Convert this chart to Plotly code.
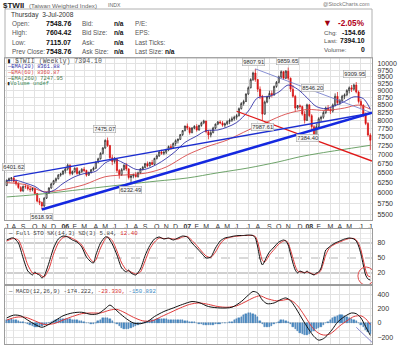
import numpy as np
import pandas as pd
import plotly.graph_objects as go

# ---------------- data ----------------
# weekly bars (week ending Friday)
week_dates = pd.date_range("2005-07-15", periods=156, freq="7D")

opens = [6180, 6310, 6350, 6370, 6280, 6220, 6130, 6050, 6160, 6150,
         6100, 6080, 6110, 5990, 5810, 5780, 5700, 5880, 6000, 6120,
         6220, 6300, 6350, 6440, 6470, 6548, 6600, 6700, 6480, 6530,
         6620, 6480, 6530, 6590, 6560, 6440, 6510, 6580, 6620, 6780,
         6870, 7020, 7170, 7390, 7240, 6900, 6800, 6860, 6560, 6450,
         6580, 6700, 6600, 6380, 6420, 6450, 6400, 6500, 6600, 6640,
         6740, 6680, 6770, 6720, 6880, 6950, 7060, 7020, 7050, 7120,
         7210, 7180, 7300, 7380, 7420, 7560, 7680, 7823, 7760, 7620,
         7760, 7810, 7700, 7840, 7920, 7980, 7650, 7550, 7620, 7760,
         7880, 7950, 7920, 7850, 7890, 7960, 8000, 8050, 8100, 8150,
         8380, 8550, 8620, 8880, 9100, 9400, 9650, 9400, 9050, 8800,
         8200, 8600, 8780, 8900, 8850, 9150, 9300, 9500, 9700, 9450,
         9720, 9450, 9050, 8800, 8400, 8480, 8450, 8200, 8000, 8506,
         8150, 7800, 7550, 7800, 8050, 8100, 8250, 8400, 8350, 8300,
         8500, 8800, 8580, 8650, 8800, 8850, 9000, 9100, 9050, 9200,
         8950, 8620, 8500, 8200, 7900, 7548.76]
highs = [6330, 6380, 6390, 6401.62, 6330, 6260, 6170, 6180, 6220, 6200,
         6150, 6140, 6130, 6000, 5880, 5800, 5900, 6020, 6140, 6250,
         6320, 6380, 6470, 6500, 6560, 6620, 6740, 6720, 6560, 6640,
         6650, 6560, 6620, 6650, 6580, 6530, 6600, 6660, 6800, 6900,
         7050, 7200, 7420, 7475.07, 7260, 6980, 6920, 6880, 6600, 6620,
         6720, 6760, 6620, 6450, 6480, 6520, 6530, 6620, 6680, 6760,
         6800, 6790, 6840, 6900, 6990, 7080, 7120, 7100, 7150, 7240,
         7280, 7330, 7420, 7450, 7580, 7700, 7830, 7900, 7800, 7790,
         7850, 7880, 7860, 7960, 8020, 7990, 7700, 7700, 7800, 7900,
         7980, 8000, 7980, 7930, 8000, 8060, 8120, 8150, 8200, 8420,
         8600, 8680, 8900, 9150, 9450, 9700, 9807.91, 9420, 9150, 8850,
         8650, 8820, 9000, 9000, 9180, 9350, 9550, 9750, 9730, 9760,
         9859.65, 9480, 9200, 8850, 8500, 8520, 8480, 8300, 8546.20, 8520,
         8200, 7850, 7900, 8100, 8150, 8300, 8450, 8500, 8450, 8550,
         8900, 8950, 8700, 8850, 8900, 9050, 9150, 9200, 9250, 9309.95,
         9000, 8700, 8520, 8250, 7950, 7604.42]
lows = [6170, 6260, 6280, 6250, 6180, 6100, 6020, 6030, 6100, 6060,
        6020, 6040, 5960, 5780, 5720, 5618.93, 5680, 5860, 5980, 6100,
        6190, 6250, 6330, 6400, 6440, 6480, 6560, 6430, 6440, 6500,
        6450, 6440, 6500, 6520, 6400, 6420, 6480, 6550, 6600, 6750,
        6850, 6990, 7150, 7200, 6850, 6700, 6740, 6500, 6350, 6420,
        6560, 6550, 6330, 6232.49, 6360, 6380, 6380, 6470, 6560, 6620,
        6640, 6660, 6700, 6710, 6850, 6920, 6980, 6970, 7000, 7080,
        7120, 7150, 7230, 7300, 7400, 7520, 7660, 7700, 7560, 7600,
        7720, 7650, 7680, 7800, 7880, 7600, 7420, 7480, 7600, 7720,
        7850, 7880, 7800, 7780, 7860, 7880, 7950, 7990, 8020, 8120,
        8350, 8480, 8600, 8850, 9080, 9350, 9320, 8950, 8700, 7987.61,
        8180, 8560, 8700, 8760, 8820, 9100, 9260, 9450, 9400, 9420,
        9380, 8950, 8750, 8300, 8350, 8380, 8150, 7900, 7980, 8100,
        7700, 7450, 7384.40, 7750, 7950, 8050, 8200, 8300, 8200, 8250,
        8450, 8500, 8500, 8600, 8700, 8800, 8900, 8950, 9000, 8900,
        8550, 8400, 8100, 7850, 7500, 7115.07]
closes = [6310, 6350, 6370, 6280, 6220, 6130, 6050, 6160, 6150, 6100,
          6080, 6110, 5990, 5810, 5780, 5700, 5880, 6000, 6120, 6220,
          6300, 6350, 6440, 6470, 6548, 6600, 6700, 6480, 6530, 6620,
          6480, 6530, 6590, 6560, 6440, 6510, 6580, 6620, 6780, 6870,
          7020, 7170, 7390, 7240, 6900, 6800, 6860, 6560, 6450, 6580,
          6700, 6600, 6380, 6420, 6450, 6400, 6500, 6600, 6640, 6740,
          6680, 6770, 6720, 6880, 6950, 7060, 7020, 7050, 7120, 7210,
          7180, 7300, 7380, 7420, 7560, 7680, 7823, 7760, 7620, 7760,
          7810, 7700, 7840, 7920, 7980, 7650, 7550, 7620, 7760, 7880,
          7950, 7920, 7850, 7890, 7960, 8000, 8050, 8100, 8150, 8380,
          8550, 8620, 8880, 9100, 9400, 9650, 9400, 9050, 8800, 8200,
          8600, 8780, 8900, 8850, 9150, 9300, 9500, 9700, 9450, 9720,
          9450, 9050, 8800, 8400, 8480, 8450, 8200, 8000, 8506, 8150,
          7800, 7550, 7800, 8050, 8100, 8250, 8400, 8350, 8300, 8500,
          8800, 8580, 8650, 8800, 8850, 9000, 9100, 9050, 9200, 8950,
          8620, 8500, 8200, 7900, 7548.76, 7394.10]

ema20_dates = ["2005-07-15", "2005-08-12", "2005-09-09", "2005-10-07", "2005-11-04",
               "2005-12-02", "2005-12-30", "2006-02-03", "2006-03-03", "2006-04-07",
               "2006-05-05", "2006-06-02", "2006-07-07", "2006-08-04", "2006-09-01",
               "2006-10-06", "2006-11-03", "2006-12-01", "2006-12-29", "2007-02-02",
               "2007-03-02", "2007-04-06", "2007-05-04", "2007-06-01", "2007-07-06",
               "2007-08-03", "2007-09-07", "2007-10-05", "2007-11-02", "2007-11-30",
               "2007-12-28", "2008-01-25", "2008-02-22", "2008-03-21", "2008-04-18",
               "2008-05-16", "2008-06-13", "2008-07-04"]
ema20_vals = [6300, 6310, 6240, 6160, 6020, 6060, 6230, 6400, 6480, 6540,
              6760, 6850, 6720, 6590, 6590, 6720, 6880, 7080, 7330, 7520,
              7680, 7700, 7790, 7930, 8300, 8750, 8800, 8950, 9200, 9050,
              8750, 8450, 8380, 8480, 8620, 8780, 8720, 8361.88]

ema60_dates = ["2005-07-15", "2005-09-09", "2005-11-04", "2005-12-30", "2006-03-03",
               "2006-05-05", "2006-07-14", "2006-09-08", "2006-11-03", "2007-01-05",
               "2007-03-02", "2007-05-04", "2007-07-06", "2007-08-31", "2007-10-26",
               "2007-12-28", "2008-02-22", "2008-04-18", "2008-05-30", "2008-07-04"]
ema60_vals = [6250, 6200, 6030, 6080, 6200, 6400, 6450, 6500, 6650, 6980,
              7200, 7400, 7700, 7950, 8200, 8350, 8320, 8400, 8500, 8360.87]

ema260_dates = ["2005-07-15", "2005-10-07", "2006-01-06", "2006-04-07", "2006-07-07",
                "2006-10-06", "2007-01-05", "2007-04-06", "2007-07-06", "2007-10-05",
                "2007-12-07", "2008-02-01", "2008-04-04", "2008-07-04"]
ema260_vals = [5907, 5960, 6040, 6126, 6210, 6290, 6368, 6500, 6626, 6790,
               6926, 7020, 7114, 7247.95]

# trend line anchors
channel_top_dates = ["2005-08-05", "2008-07-09"]
channel_top_prices = [6401.62, 8237]
fall_line_dates = ["2007-07-27", "2008-07-09"]
fall_line_prices = [9807.91, 8237]
support_idx = [15, 53]          # lows the rising support line runs through
break_idx = [109, 132]          # lows the red line runs through
support_end = "2008-07-09"
break_span = ["2007-06-01", "2008-07-09"]

# Full stochastics (week index, value)
sto_idx = [0, 2, 3, 5, 7, 9, 11, 12, 13, 14,
           15, 16, 18, 20, 22, 24, 26, 28, 30, 32,
           34, 36, 37, 38, 40, 42, 43, 45, 47, 49,
           51, 52, 53, 55, 57, 59, 61, 63, 65, 67,
           69, 71, 73, 75, 77, 79, 81, 83, 85, 87,
           89, 91, 93, 95, 97, 99, 101, 103, 105, 106,
           107, 108, 109, 110, 111, 112, 114, 116, 118, 119,
           120, 121, 122, 123, 124, 125, 126, 127, 128, 129,
           130, 131, 132, 133, 134, 135, 136, 137, 138, 140,
           142, 144, 146, 148, 149, 150, 151, 152, 153, 154,
           155]
sto_k = [86, 90, 90, 80, 50, 24, 16, 22, 18, 16,
         10, 14, 40, 70, 88, 94, 92, 86, 82, 72,
         52, 42, 40, 56, 80, 92, 92, 78, 56, 30,
         22, 26, 20, 16, 28, 55, 75, 88, 92, 88,
         90, 86, 90, 94, 92, 80, 70, 60, 50, 52,
         70, 84, 90, 92, 94, 95, 95, 96, 95, 90,
         72, 48, 36, 44, 54, 62, 72, 82, 86, 84,
         76, 58, 40, 26, 20, 24, 22, 20, 24, 20,
         18, 16, 20, 22, 30, 48, 66, 70, 74, 80,
         84, 88, 90, 88, 84, 74, 58, 36, 16, 8,
         5.84]
sto_d = [84, 88, 89, 86, 64, 36, 20, 19, 19, 18,
         14, 12, 28, 58, 80, 91, 93, 89, 84, 76,
         60, 46, 42, 46, 70, 88, 92, 85, 64, 40,
         26, 24, 22, 18, 22, 44, 68, 82, 90, 89,
         89, 88, 88, 92, 93, 85, 75, 64, 54, 51,
         62, 78, 88, 91, 93, 94, 95, 95, 95, 93,
         82, 62, 45, 42, 48, 56, 67, 78, 84, 85,
         80, 66, 50, 34, 24, 22, 22, 21, 22, 21,
         19, 17, 18, 20, 26, 40, 56, 66, 72, 78,
         82, 86, 89, 89, 86, 79, 66, 46, 26, 14,
         12.40]

# MACD(12,26,9)
macd_idx = [0, 3, 6, 9, 12, 15, 18, 21, 24, 28,
            32, 36, 39, 42, 44, 46, 48, 51, 54, 57,
            60, 63, 67, 71, 75, 79, 82, 86, 91, 96,
            100, 103, 105, 107, 109, 111, 114, 117, 119, 121,
            123, 125, 127, 129, 131, 133, 135, 137, 139, 141,
            144, 147, 149, 151, 153, 155]
macd_vals = [70, 110, 100, 40, -20, -60, -20, 40, 100, 140,
             150, 120, 130, 200, 250, 200, 140, 60, 0, -10,
             20, 90, 160, 210, 260, 300, 285, 230, 210, 220,
             300, 390, 440, 420, 320, 270, 280, 330, 350, 310,
             220, 110, 0, -100, -190, -240, -220, -160, -80, 10,
             90, 140, 130, 70, -50, -174.222]
signal_idx = [0, 4, 8, 12, 16, 20, 24, 28, 32, 36,
              40, 44, 47, 50, 54, 58, 62, 66, 70, 74,
              78, 82, 86, 90, 94, 98, 102, 105, 108, 111,
              115, 118, 120, 122, 124, 126, 128, 130, 132, 134,
              136, 138, 140, 142, 145, 148, 151, 153, 155]
signal_vals = [40, 80, 80, 30, -20, -10, 40, 90, 130, 140,
               140, 180, 190, 150, 80, 30, 30, 90, 150, 210,
               260, 280, 260, 230, 220, 240, 300, 350, 380, 340,
               310, 320, 330, 300, 240, 150, 50, -50, -120, -160,
               -170, -150, -100, -40, 30, 90, 100, 60, -23.330]
macd_hist = [40, 45, 50, 45, 40, 30, 20, 10, 0,
             -15, -30, -45, -55, -60, -55, -45, -30,
             -15, 0, 15, 30, 40, 50,
             55, 60, 60, 55, 50, 45, 40, 35, 30, 25, 15, 5, -5, -15, -10,
             5, 25, 45, 65, 75, 70, 55, 30,
             5, -20, -45, -65, -80, -90, -85, -75, -60, -45,
             -30, -15, 0, 10, 20, 30, 40,
             45, 50, 55, 55, 50, 50, 45, 45, 45, 40, 40, 35, 35, 30, 25, 20, 15, 10,
             0, -10, -20, -25, -30, -30, -30, -25, -20, -15, -10, -5, 0,
             5, 10, 20, 35, 50, 70, 90, 110, 125, 135, 140,
             130, 110, 80, 30, -20,
             -50, -60, -55, -40, -20, 0,
             20, 35, 40, 30, 10,
             -20, -50, -80, -110, -140, -160, -170, -165, -150, -130, -110, -90, -70, -50, -25, -5,
             15, 40, 65, 85, 100, 110, 110, 100, 90, 75, 60, 45,
             25, 0, -30, -60, -95, -125, -150.892]
macd_trend_dates = ["2008-05-23", "2008-07-09"]
macd_trend_vals = [-60, -270]

price_ticks = [5500, 5750, 6000, 6250, 6500, 6750, 7000, 7250, 7500, 7750,
               8000, 8250, 8500, 8750, 9000, 9250, 9500, 9750, 10000]

# labelled turning points: (week index, 'high'/'low', y shift px, x shift px)
turn_labels = [(3, "high", 10, 0), (15, "low", -7, 0), (43, "high", 8, -3),
               (53, "low", -7, -1), (106, "high", 7, -2), (120, "high", 7, -1),
               (109, "low", -6, 0), (128, "high", 16, 6), (132, "low", 3, -9),
               (149, "high", 8, -2)]

# ---------------- drawing ----------------
W, H = 400, 346
FONT = "Liberation Sans, Arial, sans-serif"
MONO = "Liberation Mono, DejaVu Sans Mono, monospace"


def px(x):
    return x / W


def py(y):
    return 1 - y / H


x_range = ["2005-07-10", "2008-07-09"]
dates = pd.Series(week_dates)

fig = go.Figure()

# price candles
fig.add_trace(go.Candlestick(
    x=week_dates, open=opens, high=highs, low=lows, close=closes,
    increasing=dict(line=dict(color="#1a1a1a", width=0.7), fillcolor="#ffffff"),
    decreasing=dict(line=dict(color="#d81010", width=0.7), fillcolor="#d81010"),
    whiskerwidth=0, xaxis="x", yaxis="y", showlegend=False, hoverinfo="skip"))

# moving averages
for d, v, c in [(ema260_dates, ema260_vals, "#5f9a5a"),
                (ema60_dates, ema60_vals, "#d84848"),
                (ema20_dates, ema20_vals, "#3030a8")]:
    fig.add_trace(go.Scatter(x=d, y=v, mode="lines", xaxis="x", yaxis="y",
                             line=dict(color=c, width=0.9, shape="spline", smoothing=0.9),
                             showlegend=False, hoverinfo="skip"))


def extend_line(d0, p0, d1, p1, end_a, end_b):
    """straight line in (time, log price) through two points, drawn between end_a and end_b"""
    t0, t1 = pd.Timestamp(d0), pd.Timestamp(d1)
    slope = (np.log10(p1) - np.log10(p0)) / (t1 - t0).days
    out_d, out_p = [], []
    for e in (end_a, end_b):
        te = pd.Timestamp(e)
        out_d.append(te)
        out_p.append(10 ** (np.log10(p0) + slope * (te - t0).days))
    return out_d, out_p


# rising support through the two lows
sd, sp = extend_line(week_dates[support_idx[0]], lows[support_idx[0]],
                     week_dates[support_idx[1]], lows[support_idx[1]],
                     week_dates[support_idx[0]], support_end)
# red line through the 2007/2008 lows
bd, bp = extend_line(week_dates[break_idx[0]], lows[break_idx[0]],
                     week_dates[break_idx[1]], lows[break_idx[1]],
                     break_span[0], break_span[1])

line_specs = [(fall_line_dates, fall_line_prices, "#6a74c8", 0.8),
              (bd, bp, "#e01818", 1.3),
              (channel_top_dates, channel_top_prices, "#1c2ed0", 1.4),
              (sd, sp, "#1428e0", 2.6)]
for d, v, c, w in line_specs:
    fig.add_trace(go.Scatter(x=d, y=v, mode="lines", xaxis="x", yaxis="y",
                             line=dict(color=c, width=w), showlegend=False,
                             hoverinfo="skip", cliponaxis=True))

# stochastics
fig.add_trace(go.Scatter(x=dates[sto_idx], y=sto_d, mode="lines", xaxis="x2", yaxis="y2",
                         line=dict(color="#e03a3a", width=1, shape="spline", smoothing=0.6),
                         showlegend=False, hoverinfo="skip"))
fig.add_trace(go.Scatter(x=dates[sto_idx], y=sto_k, mode="lines", xaxis="x2", yaxis="y2",
                         line=dict(color="#111111", width=1, shape="spline", smoothing=0.6),
                         showlegend=False, hoverinfo="skip"))

# MACD
fig.add_trace(go.Bar(x=week_dates, y=macd_hist, xaxis="x3", yaxis="y3",
                     marker=dict(color="#4a8cc4", line=dict(color="#2f6fa8", width=0.4)),
                     width=4.2 * 86400000, showlegend=False, hoverinfo="skip"))
fig.add_trace(go.Scatter(x=dates[signal_idx], y=signal_vals, mode="lines", xaxis="x3", yaxis="y3",
                         line=dict(color="#e03a3a", width=1, shape="spline", smoothing=0.8),
                         showlegend=False, hoverinfo="skip"))
fig.add_trace(go.Scatter(x=dates[macd_idx], y=macd_vals, mode="lines", xaxis="x3", yaxis="y3",
                         line=dict(color="#111111", width=1, shape="spline", smoothing=0.8),
                         showlegend=False, hoverinfo="skip"))
fig.add_trace(go.Scatter(x=macd_trend_dates, y=macd_trend_vals, mode="lines", xaxis="x3", yaxis="y3",
                         line=dict(color="#8a8ad0", width=1), showlegend=False, hoverinfo="skip"))

# month ticks at the first weekly bar of each month
tick_dates, tick_text = [], []
prev = None
for d in week_dates:
    key = (d.year, d.month)
    if key != prev:
        tick_dates.append(d)
        tick_text.append("<b>%02d</b>" % (d.year % 100) if d.month == 1 else d.strftime("%b")[0])
        prev = key

grid = "#e2e2e2"
frame = "#9c9c9c"
xcommon = dict(type="date", range=x_range, tickmode="array", tickvals=tick_dates,
               showgrid=True, gridcolor=grid, gridwidth=0.6, showline=True, linecolor=frame,
               linewidth=1, mirror=True, ticks="", zeroline=False,
               domain=[px(5), px(372)])
ycommon = dict(side="right", showline=True, linecolor=frame, linewidth=1, mirror=True,
               ticks="", zeroline=False, tickfont=dict(size=7, color="#333", family=FONT),
               ticklabelstandoff=3)

fig.update_layout(
    width=W, height=H, margin=dict(l=0, r=0, t=0, b=0),
    paper_bgcolor="white", plot_bgcolor="white",
    font=dict(family=FONT, size=7, color="#333"),
    bargap=0,
    xaxis=dict(**xcommon, anchor="y", ticktext=tick_text, showticklabels=True,
               tickfont=dict(size=7, color="#333", family=FONT),
               rangeslider=dict(visible=False)),
    xaxis2=dict(**xcommon, anchor="y2", matches="x", showticklabels=False),
    xaxis3=dict(**xcommon, anchor="y3", matches="x", showticklabels=False),
    yaxis=dict(**ycommon, anchor="x", domain=[py(220), py(58)], type="log",
               range=[np.log10(5392), np.log10(10240)], tickmode="array",
               tickvals=price_ticks, ticktext=[str(v) for v in price_ticks],
               showgrid=True, gridcolor=grid, gridwidth=0.6),
    yaxis2=dict(**ycommon, anchor="x2", domain=[py(284), py(229)], range=[-2, 108],
                tickmode="array", tickvals=[20, 50, 80], showgrid=False,
                minor=dict(tickmode="array", tickvals=[10, 30, 40, 60, 70, 90, 100],
                           showgrid=True, gridcolor="#ececec", gridwidth=0.6, ticks="")),
    yaxis3=dict(**ycommon, anchor="x3", domain=[py(344), py(286)], range=[-294, 517],
                tickmode="array", tickvals=[-200, 0, 200, 400], showgrid=True,
                gridcolor=grid, gridwidth=0.6,
                minor=dict(tickmode="array", tickvals=[-100, 100, 300],
                           showgrid=True, gridcolor="#ececec", gridwidth=0.6, ticks="")),
)

# stochastic reference levels
for lvl, dash, col in [(80, "solid", "#a0a0a0"), (20, "solid", "#a0a0a0"), (50, "dash", "#b4b4b4")]:
    fig.add_shape(type="line", xref="x2 domain", yref="y2", x0=0, x1=1, y0=lvl, y1=lvl,
                  line=dict(color=col, width=1, dash=dash), layer="below")

# circle round the latest stochastic reading
fig.add_shape(type="circle", xref="x2", yref="y2", x0="2008-05-28", x1="2008-07-16",
              y0=-4, y1=32, line=dict(color="#e05050", width=1))

# info box
fig.add_shape(type="rect", xref="paper", yref="paper", x0=px(5), x1=px(372),
              y0=py(58), y1=py(9), line=dict(color="#b0b0b0", width=1))


def txt(x, y, s, size=7, color="#333", xanchor="left", family=FONT):
    fig.add_annotation(x=px(x), y=py(y), xref="paper", yref="paper", text=s,
                       showarrow=False, xanchor=xanchor, yanchor="middle",
                       font=dict(size=size, color=color, family=family))


txt(1, 5, "<b>$TWII</b>", 8, "#222")
txt(27, 5, "(Taiwan Weighted Index)", 6.2, "#666")
txt(106, 5, "INDX", 5.2, "#666")
txt(372, 3.5, "@StockCharts.com", 5.4, "#777", xanchor="right")

txt(9, 15, "Thursday\u00a0\u00a03-Jul-2008", 6.6, "#333")
rows = [("Open:", "7548.76", "Bid:", "n/a", "P/E:", ""),
        ("High:", "7604.42", "Bid Size:", "n/a", "EPS:", ""),
        ("Low:", "7115.07", "Ask:", "n/a", "Last Ticks:", ""),
        ("Prev Close:", "7548.76", "Ask Size:", "n/a", "Last Size:", "n/a")]
for r, ry in zip(rows, [24, 33, 42, 51]):
    txt(10, ry, r[0], 6.4, "#555")
    txt(44, ry, "<b>%s</b>" % r[1], 7, "#111")
    txt(80, ry, r[2], 6.4, "#555")
    txt(112, ry, "<b>%s</b>" % r[3], 6.6, "#111")
    txt(133, ry, r[4], 6.4, "#555")
    if r[5]:
        txt(163, ry, "<b>%s</b>" % r[5], 6.6, "#111")

txt(321, 23, "\u25BC", 9, "#a00010")
txt(367, 23.5, "<b>-2.05%</b>", 8.2, "#b00020", xanchor="right")
for lab, val, ry in [("Chg:", "-154.66", 32.5), ("Last:", "7394.10", 41), ("Volume:", "0", 50)]:
    txt(322, ry, lab, 6.2, "#555")
    txt(367, ry, "<b>%s</b>" % val, 6.8, "#111", xanchor="right")

# panel legends
txt(5, 61.5, "<span style='color:#111'>\u25AE</span> $TWII (Weekly) 7394.10", 6.6, "#555", family=MONO)
txt(5, 67, "<span style='color:#3030a8'>\u2014</span>EMA(20) 8361.88", 5.4, "#3030a8", family=MONO)
txt(5, 73, "<span style='color:#d84848'>\u2014</span>EMA(60) 8360.87", 5.4, "#d84848", family=MONO)
txt(5, 79, "<span style='color:#222'>\u2014</span>EMA(260) 7247.95", 5.4, "#4a7a48", family=MONO)
txt(5, 84.5, "<span style='color:#222'>\u25AE</span>Volume undef", 5.4, "#3a8a5a", family=MONO)

txt(6, 233.5, "<span style='color:#111'>\u2014</span> Full STO %K(14,3) %D(3) 5.84, "
    "<span style='color:#d83030'>12.40</span>", 5.8, "#444", family=MONO)
txt(6, 291.5, "<span style='color:#111'>\u2014</span> MACD(12,26,9) -174.222, "
    "<span style='color:#d83030'>-23.330,</span> <span style='color:#3a8ac4'>-150.892</span>",
    5.7, "#444", family=MONO)

# boxed turning-point values
for i, kind, ys, xs in turn_labels:
    v = highs[i] if kind == "high" else lows[i]
    fig.add_annotation(x=week_dates[i], y=np.log10(v), xref="x", yref="y",
                       text="%.2f" % v, showarrow=False, yshift=ys, xshift=xs,
                       font=dict(size=5.8, color="#333", family=FONT),
                       bgcolor="#f6f6f6", bordercolor="#a8a8a8", borderwidth=0.6, borderpad=0.6)

fig.write_html("out.html")
